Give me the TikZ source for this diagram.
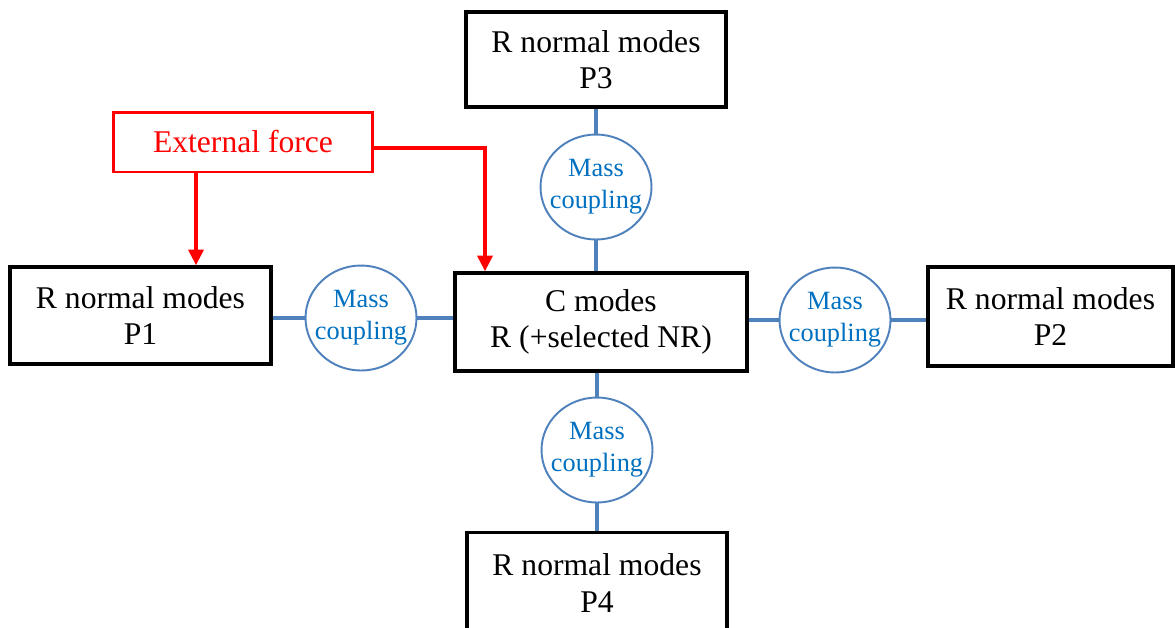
\documentclass[tikz,border=0pt]{standalone}
\usepackage{fontspec}
\setmainfont{Liberation Serif}
\usetikzlibrary{positioning}
\usetikzlibrary{arrows.meta}
\usetikzlibrary{shapes.geometric}
\definecolor{cplblue}{RGB}{79,129,189}
\definecolor{txtblue}{RGB}{0,112,192}
\definecolor{forcered}{RGB}{255,0,0}

\tikzset{
  modebox/.style={draw=black, line width=1.9pt, fill=white, align=center, inner sep=0pt,
    font=\fontsize{18}{20.5}\selectfont},
  masscpl/.style={ellipse, draw=cplblue, line width=1.1pt, fill=white, align=center,
    inner sep=-5pt, minimum width=2.22cm, minimum height=2.1cm, text=txtblue,
    font=\fontsize{15}{18}\selectfont},
  couple/.style={cplblue, line width=2.7pt},
  force/.style={forcered, line width=2.2pt, -{Triangle[width=8.5pt, length=9pt]}}
}

\begin{document}
\begin{tikzpicture}[x=0.02cm, y=-0.02cm]
    \useasboundingbox (0,0) rectangle (1175,627);
    % outer boxes
    \foreach \n/\x/\y/\w/\h in {P1/140.5/315.5/5.22/1.94, P2/1050.5/316.5/4.9/1.98,
                                P3/596/59.5/5.2/1.9, P4/597/583/5.2/2.02} {
        \node[modebox, minimum width=\w cm, minimum height=\h cm] (\n) at (\x,\y) {R normal modes\\\n};
    }
    \node[modebox, minimum width=5.84cm, minimum height=1.96cm] (C) at (601,322) {C modes\\R (+selected NR)};
    \node[modebox, draw=forcered, text=forcered, line width=1.7pt, minimum width=5.2cm, minimum height=1.2cm] (ext) at (243,142) {External force};
    % coupling circles
    \node[masscpl] (mc1) at (361,318) {Mass\\coupling};
    \node[masscpl] (mc2) at (835,320) {Mass\\coupling};
    \node[masscpl] (mc3) at (596,187) {Mass\\coupling};
    \node[masscpl] (mc4) at (597,450) {Mass\\coupling};
    \draw[couple] (P1.east |- mc1.west) -- (mc1.west);
    \draw[couple] (mc1.east) -- (C.west |- mc1.east);
    \draw[couple] (C.east |- mc2.west) -- (mc2.west);
    \draw[couple] (mc2.east) -- (P2.west |- mc2.east);
    \draw[couple] (P3.south -| mc3.north) -- (mc3.north);
    \draw[couple] (mc3.south) -- (C.north -| mc3.south);
    \draw[couple] (C.south -| mc4.north) -- (mc4.north);
    \draw[couple] (mc4.south) -- (P4.north -| mc4.south);
    % external force
    \coordinate (f1) at (196,267);
    \coordinate (f2) at (485,148);
    \draw[force] (ext.south -| f1) -- (P1.north -| f1);
    \draw[force] (ext.east |- f2) -- (f2) -- (C.north -| f2);
\end{tikzpicture}
\end{document}
